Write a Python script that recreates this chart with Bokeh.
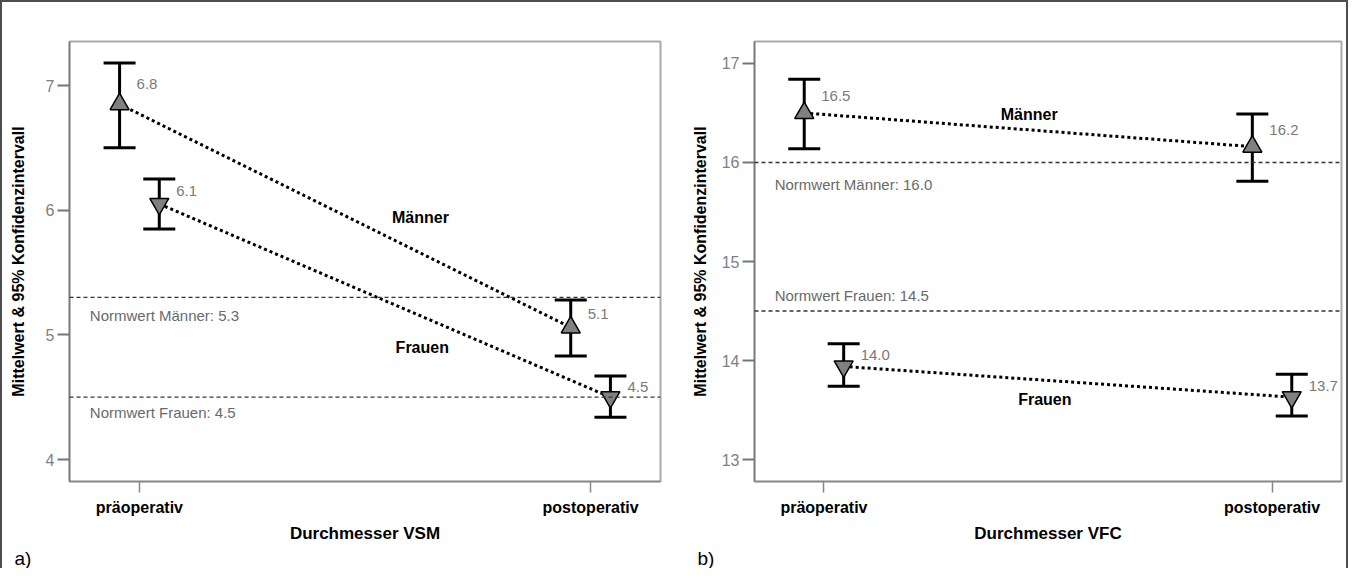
from bokeh.plotting import figure
from bokeh.models import ColumnDataSource, Whisker, TeeHead, Span, Title, FixedTicker, Range1d
from bokeh.layouts import row
from bokeh.transform import dodge
from bokeh.core.properties import value
from bokeh.embed import file_html
from bokeh.resources import INLINE

FONT = "Liberation Sans"

stages = ["präoperativ", "postoperativ"]
stage_pos = [0, 1]

# Panel a) Durchmesser VSM
vsm_m_mean = [6.85, 5.06]
vsm_m_low = [6.50, 4.83]
vsm_m_high = [7.18, 5.28]
vsm_m_lab = ["6.8", "5.1"]
vsm_f_mean = [6.05, 4.50]
vsm_f_low = [5.85, 4.34]
vsm_f_high = [6.25, 4.67]
vsm_f_lab = ["6.1", "4.5"]
vsm_norm = [5.3, 4.5]
vsm_norm_lab = ["Normwert Männer: 5.3", "Normwert Frauen: 4.5"]
vsm_yticks = [4, 5, 6, 7]

# Panel b) Durchmesser VFC
vfc_m_mean = [16.50, 16.16]
vfc_m_low = [16.14, 15.81]
vfc_m_high = [16.84, 16.49]
vfc_m_lab = ["16.5", "16.2"]
vfc_f_mean = [13.94, 13.63]
vfc_f_low = [13.74, 13.44]
vfc_f_high = [14.17, 13.86]
vfc_f_lab = ["14.0", "13.7"]
vfc_norm = [16.0, 14.5]
vfc_norm_lab = ["Normwert Männer: 16.0", "Normwert Frauen: 14.5"]
vfc_yticks = [13, 14, 15, 16, 17]


def make_panel(cfg):
    p = figure(width=672, height=566,
               x_range=Range1d(-0.155, 1.155), y_range=Range1d(*cfg["yr"]),
               output_backend="svg", toolbar_location=None,
               min_border_left=cfg["mbl"], min_border_right=cfg["mbr"],
               min_border_top=39, min_border_bottom=cfg["mbb"])
    p.background_fill_color = "white"
    p.border_fill_color = "white"
    p.outline_line_color = "#aaaaaa"
    p.outline_line_width = 2
    p.xgrid.visible = False
    p.ygrid.visible = False

    # x axis
    xa = p.xaxis[0]
    xa.ticker = FixedTicker(ticks=stage_pos)
    xa.major_label_overrides = {pos: lab for pos, lab in zip(stage_pos, stages)}
    xa.minor_tick_line_color = None
    xa.major_tick_in = 0
    xa.major_tick_out = 11
    xa.major_tick_line_color = "#888888"
    xa.major_tick_line_width = 1.5
    xa.axis_line_color = "#888888"
    xa.axis_line_width = 1.5
    xa.major_label_text_font = FONT
    xa.major_label_text_font_style = "bold"
    xa.major_label_text_font_size = "16px"
    xa.major_label_text_color = "black"
    xa.major_label_standoff = 6
    xa.axis_label = cfg["xtitle"]
    xa.axis_label_text_font = FONT
    xa.axis_label_text_font_style = "bold"
    xa.axis_label_text_font_size = "17px"
    xa.axis_label_text_color = "black"
    xa.axis_label_standoff = 5

    # y axis
    ya = p.yaxis[0]
    ya.ticker = FixedTicker(ticks=cfg["yticks"])
    ya.minor_tick_line_color = None
    ya.major_tick_in = 0
    ya.major_tick_out = 12
    ya.major_tick_line_color = "#777777"
    ya.major_tick_line_width = 2
    ya.axis_line_color = "#777777"
    ya.axis_line_width = 1.5
    ya.major_label_text_font = FONT
    ya.major_label_text_font_size = "16px"
    ya.major_label_text_color = "#808080"
    ya.major_label_standoff = 3
    ya.axis_label = "Mittelwert & 95% Konfidenzintervall"
    ya.axis_label_text_font = FONT
    ya.axis_label_text_font_style = "bold"
    ya.axis_label_text_font_size = "16px"
    ya.axis_label_text_color = "black"
    ya.axis_label_standoff = cfg["ylstand"]

    # reference lines (Normwerte)
    for nv, nl, off in zip(cfg["norm"], cfg["norm_lab"], cfg["norm_off"]):
        p.add_layout(Span(location=nv, dimension="width", line_color="#333333",
                          line_width=1.3, line_dash="4 3"))
        p.text(x=[-0.11], y=[nv], text=[nl], y_offset=off,
               text_font=value(FONT), text_font_size="15px", text_color="#6a6a6a",
               text_align="left", text_baseline="middle")

    groups = [
        (cfg["m_mean"], cfg["m_low"], cfg["m_high"], cfg["m_lab"], -0.044, "triangle"),
        (cfg["f_mean"], cfg["f_low"], cfg["f_high"], cfg["f_lab"], 0.044, "inverted_triangle"),
    ]
    for mean, low, high, lab, off, mk in groups:
        src = ColumnDataSource(dict(
            x=stage_pos, mean=mean, low=low, high=high, lab=lab,
            laby=[(m + h) / 2 for m, h in zip(mean, high)]))
        xs = dodge("x", off)
        w = Whisker(source=src, base=xs, upper="high", lower="low",
                    line_color="black", line_width=3, level="underlay",
                    upper_head=TeeHead(size=32, line_width=3, line_color="black"),
                    lower_head=TeeHead(size=32, line_width=3, line_color="black"))
        p.add_layout(w)
        p.line(x=xs, y="mean", source=src, line_color="black", line_width=3,
               line_dash="3 3")
        p.scatter(x=xs, y="mean", source=src, marker=mk, size=19,
                  fill_color="#808080", line_color="black", line_width=1.5)
        p.text(x=xs, y="laby", text="lab", source=src, x_offset=17,
               text_font=value(FONT), text_font_size="15px", text_color="#7a7a7a",
               text_align="left", text_baseline="middle")

    # group labels
    for (gx, gy), gl in zip(cfg["glab_pos"], ["Männer", "Frauen"]):
        p.text(x=[gx], y=[gy], text=[gl], text_font=value(FONT),
               text_font_size="16px", text_font_style="bold", text_color="black",
               text_align="center", text_baseline="middle")

    tag = Title(text=cfg["tag"], align="left", offset=cfg["tag_off"], standoff=0,
                text_font=FONT, text_font_size="19px", text_font_style="normal",
                text_color="black")
    p.add_layout(tag, "below")
    return p


pa = make_panel(dict(
    yr=(3.824, 7.353), yticks=vsm_yticks, xtitle="Durchmesser VSM",
    mbl=67, mbr=14, mbb=87, ylstand=16,
    m_mean=vsm_m_mean, m_low=vsm_m_low, m_high=vsm_m_high, m_lab=vsm_m_lab,
    f_mean=vsm_f_mean, f_low=vsm_f_low, f_high=vsm_f_high, f_lab=vsm_f_lab,
    norm=vsm_norm, norm_lab=vsm_norm_lab, norm_off=[18, 15],
    glab_pos=[(0.623, 5.94), (0.627, 4.90)], tag="a)", tag_off=-55))

pb = make_panel(dict(
    yr=(12.778, 17.222), yticks=vfc_yticks, xtitle="Durchmesser VFC",
    mbl=80, mbr=5, mbb=86, ylstand=10,
    m_mean=vfc_m_mean, m_low=vfc_m_low, m_high=vfc_m_high, m_lab=vfc_m_lab,
    f_mean=vfc_f_mean, f_low=vfc_f_low, f_high=vfc_f_high, f_lab=vfc_f_lab,
    norm=vfc_norm, norm_lab=vfc_norm_lab, norm_off=[22, -16],
    glab_pos=[(0.458, 16.48), (0.493, 13.61)], tag="b)", tag_off=-57))

layout = row(pa, pb, styles={"border-top": "2px solid #4d4d4d",
                             "border-left": "2px solid #4d4d4d",
                             "border-right": "2px solid #4d4d4d"})

open("out.html", "w").write(file_html(layout, INLINE))
